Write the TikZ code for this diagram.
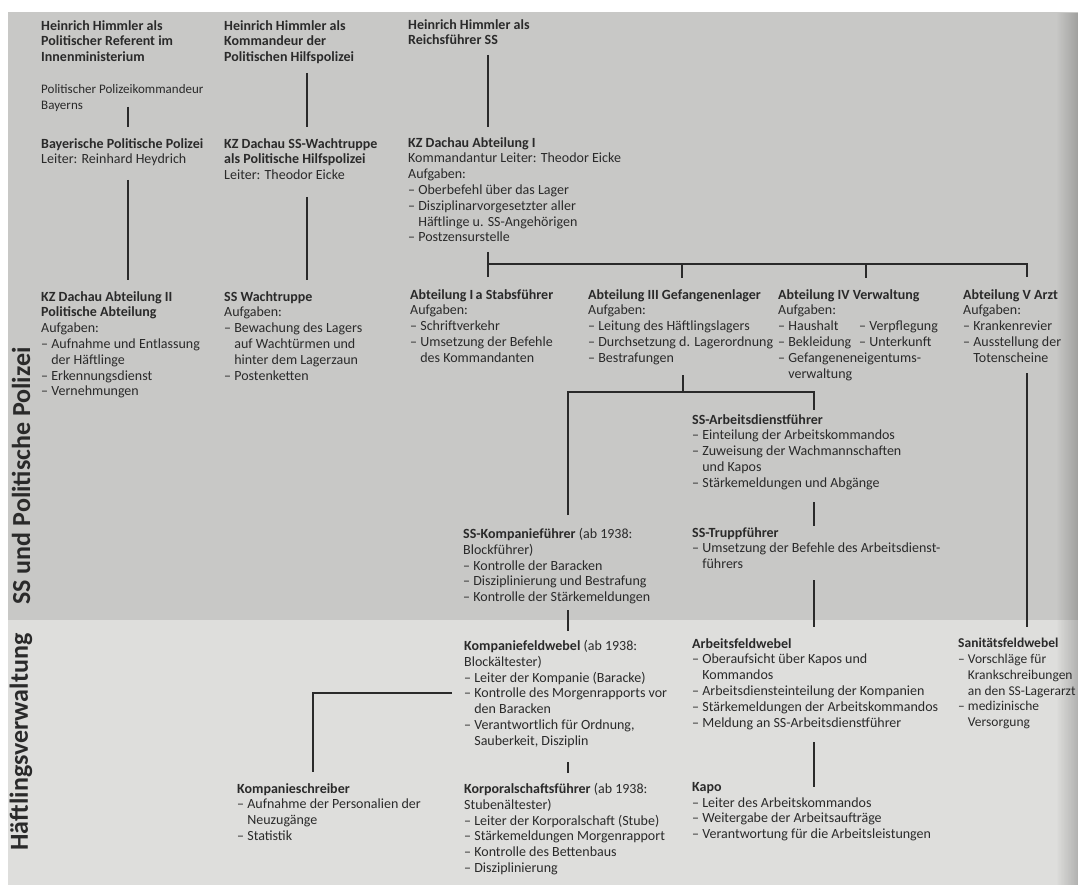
\documentclass[tikz,border=0pt]{standalone}
\usepackage{fontspec}
\setmainfont{Carlito}
\usepackage{tikz}
\usetikzlibrary{fadings}
\definecolor{ink}{RGB}{42,42,42}
\definecolor{ssgrau}{RGB}{200,200,198}
\definecolor{hvgrau}{RGB}{222,222,220}
\newcommand{\ein}{\hphantom{–\ }}
\newcommand{\spalte}[1]{\makebox[81pt][l]{#1}}
\newcommand{\amt}[4]{\node[amt] (#1) at ( #2 , #3 ) {#4};}
\tikzset{
  amt/.style={anchor=north west, yshift=11pt, align=left, inner sep=0pt, text=ink,
    font=\fontsize{14}{15.8}\selectfont,
    execute at begin node={\rule{0pt}{11pt}}},
  link/.style={draw=ink, line width=1.8pt},
  band/.style={rotate=90, inner sep=0pt, text=ink,
    font=\fontsize{26}{30}\selectfont\bfseries},
}

\begin{document}
\begin{tikzpicture}[x=1pt,y=-1pt]
% hintergrund
\fill[white] (0,0) rectangle (1078,885);
\fill[ssgrau] (8,12) rectangle (1078,620);
\fill[hvgrau] (8,620) rectangle (1078,885);
\fill[black, opacity=0.2, path fading=west] (1056,12) rectangle (1078,885);
\useasboundingbox (0,0) rectangle (1078,885);
% bereiche
\node[band] (ssp) at (21,476) {SS und Politische Polizei};
\node[band] (hv) at (21,742) {Häftlingsverwaltung};
% spalte 1
\amt{hh1}{41}{31}{\textbf{Heinrich Himmler als}\\\textbf{Politischer Referent im}\\\textbf{Innenministerium}}
\node[amt, font=\fontsize{13}{15.8}\selectfont] (ppk) at (41,95) {Politischer Polizeikommandeur\\Bayerns};
\amt{bpp}{41}{149}{\textbf{Bayerische Politische Polizei}\\Leiter: Reinhard Heydrich}
\amt{abtII}{41}{302}{\textbf{KZ Dachau Abteilung II}\\\textbf{Politische Abteilung}\\Aufgaben:\\– Aufnahme und Entlassung\\\ein der Häftlinge\\– Erkennungsdienst\\– Vernehmungen}
% spalte 2
\amt{hh2}{224}{31}{\textbf{Heinrich Himmler als}\\\textbf{Kommandeur der}\\\textbf{Politischen Hilfspolizei}}
\amt{wachHP}{224}{149}{\textbf{KZ Dachau SS-Wachtruppe}\\\textbf{als Politische Hilfspolizei}\\Leiter: Theodor Eicke}
\amt{wacht}{224}{302}{\textbf{SS Wachtruppe}\\Aufgaben:\\– Bewachung des Lagers\\\ein auf Wachtürmen und\\\ein hinter dem Lagerzaun\\– Postenketten}
% spalte 3
\amt{hh3}{408}{30}{\textbf{Heinrich Himmler als}\\\textbf{Reichsführer SS}}
\amt{abtI}{408}{148}{\textbf{KZ Dachau Abteilung I}\\Kommandantur Leiter: Theodor Eicke\\Aufgaben:\\– Oberbefehl über das Lager\\– Disziplinarvorgesetzter aller\\\ein Häftlinge u. SS-Angehörigen\\– Postzensurstelle}
% abteilungen
\amt{abtIa}{410}{300}{\textbf{Abteilung I\,a Stabsführer}\\Aufgaben:\\– Schriftverkehr\\– Umsetzung der Befehle\\\ein des Kommandanten}
\amt{abtIII}{588}{300}{\textbf{Abteilung III Gefangenenlager}\\Aufgaben:\\– Leitung des Häftlingslagers\\– Durchsetzung d. Lagerordnung\\– Bestrafungen}
\amt{abtIV}{778}{300}{\textbf{Abteilung IV Verwaltung}\\Aufgaben:\\\spalte{– Haushalt}– Verpflegung\\\spalte{– Bekleidung}– Unterkunft\\– Gefangeneneigentums-\\\ein verwaltung}
\amt{abtV}{963}{300}{\textbf{Abteilung V Arzt}\\Aufgaben:\\– Krankenrevier\\– Ausstellung der\\\ein Totenscheine}
% ss-fuehrer
\amt{arbdf}{692}{425}{\textbf{SS-Arbeitsdienstführer}\\– Einteilung der Arbeitskommandos\\– Zuweisung der Wachmannschaften\\\ein und Kapos\\– Stärkemeldungen und Abgänge}
\amt{kompf}{463}{539}{\textbf{SS-Kompanieführer} (ab 1938:\\Blockführer)\\– Kontrolle der Baracken\\– Disziplinierung und Bestrafung\\– Kontrolle der Stärkemeldungen}
\amt{truppf}{692}{538}{\textbf{SS-Truppführer}\\– Umsetzung der Befehle des Arbeitsdienst-\\\ein führers}
% haeftlinge
\amt{kompfw}{464}{651}{\textbf{Kompaniefeldwebel} (ab 1938:\\Blockältester)\\– Leiter der Kompanie (Baracke)\\– Kontrolle des Morgenrapports vor\\\ein den Baracken\\– Verantwortlich für Ordnung,\\\ein Sauberkeit, Disziplin}
\amt{arbfw}{692}{649}{\textbf{Arbeitsfeldwebel}\\– Oberaufsicht über Kapos und\\\ein Kommandos\\– Arbeitsdiensteinteilung der Kompanien\\– Stärkemeldungen der Arbeitskommandos\\– Meldung an SS-Arbeitsdienstführer}
\node[amt, font=\fontsize{13.5}{15.8}\selectfont] (sani) at (958,649) {\textbf{Sanitätsfeldwebel}\\– Vorschläge für\\\ein Krankschreibungen\\\ein an den SS-Lagerarzt\\– medizinische\\\ein Versorgung};
\amt{kschr}{237}{794}{\textbf{Kompanieschreiber}\\– Aufnahme der Personalien der\\\ein Neuzugänge\\– Statistik}
\amt{korp}{464}{794}{\textbf{Korporalschaftsführer} (ab 1938:\\Stubenältester)\\– Leiter der Korporalschaft (Stube)\\– Stärkemeldungen Morgenrapport\\– Kontrolle des Bettenbaus\\– Disziplinierung}
\amt{kapo}{692}{793}{\textbf{Kapo}\\– Leiter des Arbeitskommandos\\– Weitergabe der Arbeitsaufträge\\– Verantwortung für die Arbeitsleistungen}
% linienpunkte
\coordinate (a1) at (128,107); \coordinate (a2) at (128,127);
\coordinate (a3) at (128,180); \coordinate (a4) at (128,280);
\coordinate (b1) at (307,73);  \coordinate (b2) at (307,127);
\coordinate (b3) at (307,197); \coordinate (b4) at (307,280);
\coordinate (k1) at (488,55);  \coordinate (k2) at (488,127);
\coordinate (k3) at (488,252); \coordinate (k4) at (488,277);
\coordinate (bus) at (0,264);
\coordinate (r3) at (682,278); \coordinate (r4) at (866,278); \coordinate (r5) at (1027,277);
\coordinate (g1) at (683,375); \coordinate (g2) at (683,392);
\coordinate (g3) at (568,515); \coordinate (g4) at (814,410);
\coordinate (h1) at (814,502); \coordinate (h2) at (814,526);
\coordinate (h3) at (814,580); \coordinate (h4) at (814,627);
\coordinate (h5) at (814,742); \coordinate (h6) at (814,787);
\coordinate (m1) at (568,610); \coordinate (m2) at (568,631);
\coordinate (m3) at (568,762); \coordinate (m4) at (568,773);
\coordinate (s1) at (452,693); \coordinate (s2) at (313,772);
\coordinate (v1) at (1027,373); \coordinate (v2) at (1027,627);
% linien
\draw[link] (a1) -- (a2);
\draw[link] (a3) -- (a4);
\draw[link] (b1) -- (b2);
\draw[link] (b3) -- (b4);
\draw[link] (k1) -- (k2);
\draw[link] (k3) -- (k4);
\draw[link] (k4 |- bus) -- (r5 |- bus) -- (r5);
\draw[link] (r3 |- bus) -- (r3);
\draw[link] (r4 |- bus) -- (r4);
\draw[link] (g1) -- (g2);
\draw[link] (g3) -- (g3 |- g2) -- (g4 |- g2) -- (g4);
\draw[link] (h1) -- (h2);
\draw[link] (h3) -- (h4);
\draw[link] (h5) -- (h6);
\draw[link] (m1) -- (m2);
\draw[link] (m3) -- (m4);
\draw[link] (s1) -| (s2);
\draw[link] (v1) -- (v2);
\end{tikzpicture}
\end{document}
